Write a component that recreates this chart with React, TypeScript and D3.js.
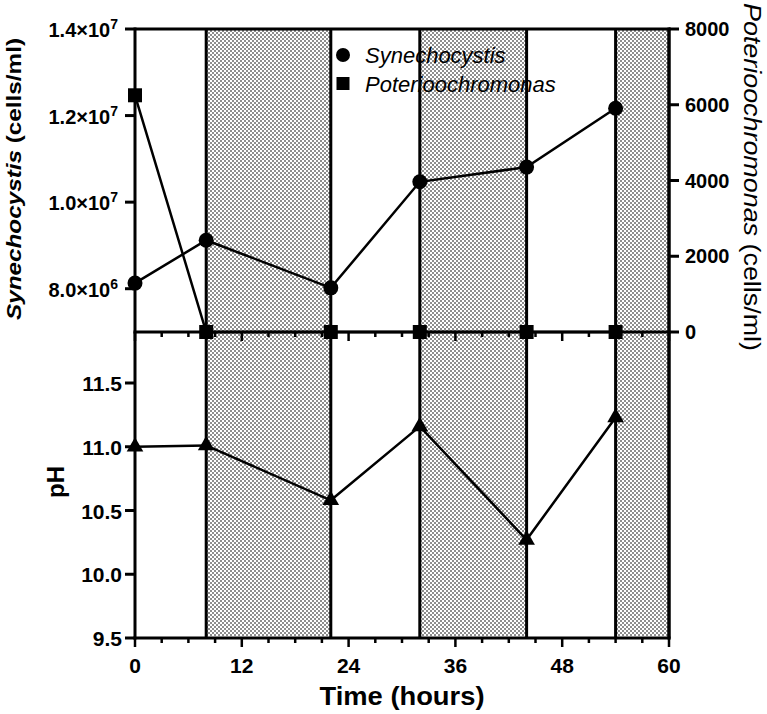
import React from "react";
import * as d3 from "d3";

const times = [0, 8, 22, 32, 44, 54];
const synechocystis = [8.13e6, 9.12e6, 8.02e6, 1.047e7, 1.081e7, 1.217e7];
const poterioochromonas = [6250, 0, 0, 0, 0, 0];
const phValues = [11.0, 11.01, 10.58, 11.16, 10.27, 11.23];
const darkPeriods: [number, number][] = [[8, 22], [32, 44], [54, 60]];
const xTicks = [0, 12, 24, 36, 48, 60];
const synTicks = [8e6, 1e7, 1.2e7, 1.4e7];
const potTicks = [0, 2000, 4000, 6000, 8000];
const phTicks = [9.5, 10, 10.5, 11, 11.5];

const FONT = "'Liberation Sans', Arial, Helvetica, sans-serif";

export default function App() {
  const left = 135, right = 669, topY = 29, midY = 332, botY = 638;
  const x = d3.scaleLinear().domain([0, 60]).range([left, right]);
  const ySyn = d3.scaleLinear().domain([7e6, 1.4e7]).range([midY, topY]);
  const yPot = d3.scaleLinear().domain([0, 8000]).range([midY, topY]);
  const yPH = d3.scaleLinear().domain([9.5, 11.9]).range([botY, midY]);

  const minorTicks = d3.range(0, 61, 3);

  const synLine = d3.line<number>().x((_, i) => x(times[i])).y((d) => ySyn(d))(synechocystis) || "";
  const potLine = d3.line<number>().x((_, i) => x(times[i])).y((d) => yPot(d))(poterioochromonas) || "";
  const phLine = d3.line<number>().x((_, i) => x(times[i])).y((d) => yPH(d))(phValues) || "";
  const tri = d3.symbol().type(d3.symbolTriangle).size(120)() || "";

  const sci = (v: number) => {
    const e = Math.floor(Math.log10(v));
    const m = (v / Math.pow(10, e)).toFixed(1);
    return { m, e };
  };

  return (
    <svg width={767} height={714} style={{ position: "absolute", left: 0, top: 0, background: "#fff" }} fontFamily={FONT}>
      <defs>
        <pattern id="chk" width={4} height={4} patternUnits="userSpaceOnUse">
          <rect width={4} height={4} fill="#fff" />
          <rect x={0} y={0} width={2} height={2} fill="#8e8e8e" />
          <rect x={2} y={2} width={2} height={2} fill="#8e8e8e" />
        </pattern>
      </defs>

      {/* dark-period bands */}
      {darkPeriods.map(([a, b], i) => (
        <rect key={"band" + i} x={x(a)} y={topY} width={x(b) - x(a)} height={botY - topY - 2} fill="url(#chk)" />
      ))}

      {/* legend */}
      <circle cx={343} cy={55} r={7} fill="#000" />
      <text x={365} y={63} fontSize={22} fontStyle="italic">Synechocystis</text>
      <rect x={336.5} y={77} width={13} height={13} fill="#000" />
      <text x={365} y={92} fontSize={22} fontStyle="italic">Poterioochromonas</text>

      {/* band borders */}
      {darkPeriods.map(([a, b], i) => (
        <g key={"bb" + i}>
          <line x1={x(a)} x2={x(a)} y1={topY} y2={botY} stroke="#000" strokeWidth={3} />
          <line x1={x(b)} x2={x(b)} y1={topY} y2={botY} stroke="#000" strokeWidth={3} />
        </g>
      ))}

      {/* frame and axes */}
      <line x1={left} x2={right + 1.5} y1={topY} y2={topY} stroke="#000" strokeWidth={3} />
      <line x1={left} x2={left} y1={topY - 1.5} y2={botY + 1.5} stroke="#000" strokeWidth={3} />
      <line x1={right} x2={right} y1={topY - 1.5} y2={botY + 1.5} stroke="#000" strokeWidth={3} />
      <line x1={left - 1.5} x2={right + 1.5} y1={midY} y2={midY} stroke="#000" strokeWidth={3} />
      <line x1={left - 1.5} x2={right + 1.5} y1={botY} y2={botY} stroke="#000" strokeWidth={3} />

      {/* x ticks on both panels */}
      {minorTicks.map((t) => {
        const len = t % 12 === 0 ? 9 : 5;
        return (
          <g key={"xt" + t}>
            <line x1={x(t)} x2={x(t)} y1={midY} y2={midY + len} stroke="#000" strokeWidth={2.5} />
            <line x1={x(t)} x2={x(t)} y1={botY} y2={botY + len} stroke="#000" strokeWidth={2.5} />
          </g>
        );
      })}
      {xTicks.map((t) => (
        <text key={"xl" + t} x={x(t)} y={673} fontSize={21} fontWeight="bold" textAnchor="middle">{t}</text>
      ))}
      <text x={(left + right) / 2} y={705} fontSize={25} fontWeight="bold" textAnchor="middle" textLength={165} lengthAdjust="spacingAndGlyphs">Time (hours)</text>

      {/* left Synechocystis axis */}
      {synTicks.map((v) => {
        const { m, e } = sci(v);
        return (
          <g key={"sy" + v}>
            <line x1={left - 10} x2={left} y1={ySyn(v)} y2={ySyn(v)} stroke="#000" strokeWidth={3} />
            <text x={118} y={ySyn(v) + 8} fontSize={20} fontWeight="bold" textAnchor="end">
              {m}×10<tspan fontSize={14} dy={-8}>{e}</tspan>
            </text>
          </g>
        );
      })}
      <text transform={`translate(21, ${(38 + 320) / 2}) rotate(-90)`} fontSize={21} fontWeight="bold" textAnchor="middle" textLength={282} lengthAdjust="spacingAndGlyphs">
        <tspan fontStyle="italic">Synechocystis</tspan> (cells/ml)
      </text>

      {/* right Poterioochromonas axis */}
      {potTicks.map((v) => (
        <g key={"po" + v}>
          <line x1={right} x2={right + 10} y1={yPot(v)} y2={yPot(v)} stroke="#000" strokeWidth={3} />
          <text x={685} y={yPot(v) + 7} fontSize={20} fontWeight="bold">{v}</text>
        </g>
      ))}
      <text transform={`translate(744, 3) rotate(90)`} fontSize={24} textLength={348} lengthAdjust="spacingAndGlyphs">
        <tspan fontStyle="italic">Poterioochromonas</tspan>  (cells/ml)
      </text>

      {/* pH axis */}
      {phTicks.map((v) => (
        <g key={"ph" + v}>
          <line x1={left - 10} x2={left} y1={yPH(v)} y2={yPH(v)} stroke="#000" strokeWidth={3} />
          <text x={122} y={yPH(v) + 8} fontSize={21} fontWeight="bold" textAnchor="end">{v.toFixed(1)}</text>
        </g>
      ))}
      <text transform={`translate(64, 482) rotate(-90)`} fontSize={24} fontWeight="bold" textAnchor="middle">pH</text>

      {/* data lines */}
      <path d={potLine} fill="none" stroke="#000" strokeWidth={2.5} />
      <path d={synLine} fill="none" stroke="#000" strokeWidth={2.5} />
      <path d={phLine} fill="none" stroke="#000" strokeWidth={2.5} />

      {/* markers */}
      {poterioochromonas.map((v, i) => (
        <rect key={"pm" + i} x={x(times[i]) - 7} y={yPot(v) - 7} width={14} height={14} fill="#000" />
      ))}
      {synechocystis.map((v, i) => (
        <circle key={"sm" + i} cx={x(times[i])} cy={ySyn(v)} r={7.5} fill="#000" />
      ))}
      {phValues.map((v, i) => (
        <path key={"hm" + i} d={tri} transform={`translate(${x(times[i])}, ${yPH(v)})`} fill="#000" />
      ))}
    </svg>
  );
}
